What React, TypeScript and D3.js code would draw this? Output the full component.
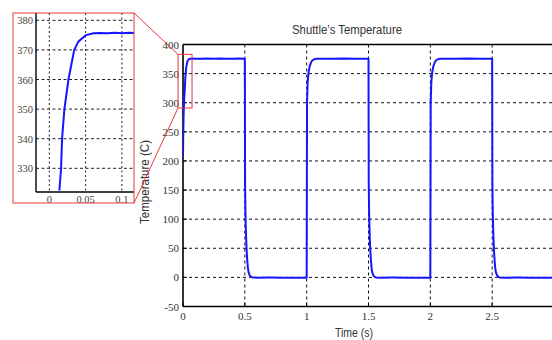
import React from "react";
import * as d3 from "d3";

// ---- data ----
const timeS: number[] = [
  0, 0.002, 0.005, 0.01, 0.014, 0.016, 0.018, 0.021, 0.026, 0.03, 0.034, 0.04, 0.05, 0.06, 0.08, 0.1, 0.15, 0.2, 0.25, 0.3, 0.35, 0.4, 0.45, 0.499,
  0.5, 0.502, 0.505, 0.51, 0.515, 0.52, 0.525, 0.53, 0.54, 0.55, 0.56, 0.6, 0.7, 0.8, 0.9, 0.999,
  1.0, 1.003, 1.008, 1.015, 1.025, 1.035, 1.045, 1.06, 1.08, 1.1, 1.2, 1.3, 1.4, 1.499,
  1.5, 1.502, 1.505, 1.51, 1.515, 1.52, 1.525, 1.53, 1.54, 1.55, 1.56, 1.6, 1.7, 1.8, 1.9, 1.999,
  2.0, 2.003, 2.008, 2.015, 2.025, 2.035, 2.045, 2.06, 2.08, 2.1, 2.2, 2.3, 2.4, 2.499,
  2.5, 2.502, 2.505, 2.51, 2.515, 2.52, 2.525, 2.53, 2.54, 2.55, 2.56, 2.6, 2.7, 2.8, 2.9, 3.0,
];
const tempC: number[] = [
  205, 245, 280, 308, 322, 330, 340, 350, 360, 365, 370, 372.8, 375, 375.6, 375.8, 375.7, 375.5, 375.9, 375.6, 375.8, 375.5, 375.7, 375.9, 375.7,
  375.7, 160, 110, 70, 45, 28, 16, 9, 3, 1, 0, -0.5, -0.4, -0.6, -0.5, -0.5,
  -0.5, 300, 335, 352, 363, 369, 372.5, 374.6, 375.5, 375.7, 375.6, 375.9, 375.5, 375.7,
  375.7, 160, 110, 70, 45, 28, 16, 9, 3, 1, 0, -0.5, -0.4, -0.6, -0.5, -0.5,
  -0.5, 300, 335, 352, 363, 369, 372.5, 374.6, 375.5, 375.7, 375.6, 375.9, 375.5, 375.7,
  375.7, 160, 110, 70, 45, 28, 16, 9, 3, 1, 0, -0.5, -0.4, -0.6, -0.5, -0.5,
];
// inset detail (first rise)
const insetTime: number[] = [0.0139, 0.0162, 0.0176, 0.0208, 0.0264, 0.0343, 0.04, 0.0506, 0.061, 0.07, 0.08, 0.09, 0.1, 0.11, 0.12];
const insetTemp: number[] = [322.5, 330, 340, 350, 360, 370, 372.8, 375, 375.6, 375.7, 375.6, 375.8, 375.6, 375.8, 375.7];

const mainXTicks = [0, 0.5, 1, 1.5, 2, 2.5];
const mainXLabels = ["0", "0.5", "1", "1.5", "2", "2.5"];
const mainYTicks = [-50, 0, 50, 100, 150, 200, 250, 300, 350, 400];
const insetXTicks = [0, 0.05, 0.1];
const insetXLabels = ["0", "0.05", "0.1"];
const insetYTicks = [330, 340, 350, 360, 370, 380];
const zoomBox = { t0: -0.04, t1: 0.073, y0: 291, y1: 383 };

const title = "Shuttle\u2019s Temperature";
const xLabel = "Time (s)";
const yLabel = "Temperature (C)";

export default function App() {
  const W = 552, H = 340;
  const x = d3.scaleLinear().domain([0, 3]).range([183, 554]);
  const y = d3.scaleLinear().domain([-50, 400]).range([306.5, 44.5]);
  const ix = d3.scaleLinear().domain([0, 0.05]).range([49.3, 85.6]);
  const iy = d3.scaleLinear().domain([330, 380]).range([168.3, 20.3]);
  const iL = 36, iB = 192, iR = 134, iT = 13;

  const line = d3.line<number>().x((_, i) => x(timeS[i])).y((d) => y(d));
  const iline = d3.line<number>().x((_, i) => ix(insetTime[i])).y((d) => iy(d));

  const serif = "'Liberation Serif', 'Times New Roman', serif";
  const sans = "'Liberation Sans', Arial, sans-serif";
  const blue = "#1515ff";
  const red = "#e8383d";

  const zx0 = x(zoomBox.t0), zx1 = x(zoomBox.t1), zy0 = y(zoomBox.y1), zy1 = y(zoomBox.y0);

  return (
    <svg width={W} height={H} style={{ position: "absolute", left: 0, top: 0, background: "#fff" }}>
      <defs>
        <clipPath id="mainClip">
          <rect x={183} y={44.5} width={371} height={262} />
        </clipPath>
        <clipPath id="insetClip">
          <rect x={iL} y={iT} width={iR - iL} height={iB - iT} />
        </clipPath>
      </defs>

      {/* main grid */}
      {mainXTicks.slice(1).map((t) => (
        <line key={"gx" + t} x1={x(t)} x2={x(t)} y1={y(400)} y2={y(-50)} stroke="#111" strokeWidth={1} strokeDasharray="3,3" />
      ))}
      {mainYTicks.slice(1, -1).map((v) => (
        <line key={"gy" + v} x1={x(0)} x2={W} y1={y(v)} y2={y(v)} stroke="#111" strokeWidth={1} strokeDasharray="3,3" />
      ))}
      {/* ticks */}
      {mainYTicks.map((v) => (
        <line key={"ty" + v} x1={x(0)} x2={x(0) + 4} y1={y(v)} y2={y(v)} stroke="#000" />
      ))}
      {mainXTicks.map((t) => (
        <line key={"tx" + t} x1={x(t)} x2={x(t)} y1={y(-50)} y2={y(-50) - 4} stroke="#000" />
      ))}
      {/* frame */}
      <line x1={x(0)} x2={W} y1={y(400)} y2={y(400)} stroke="#000" strokeWidth={1.6} />
      <line x1={x(0)} x2={W} y1={y(-50)} y2={y(-50)} stroke="#000" strokeWidth={1.6} />
      <line x1={x(0)} x2={x(0)} y1={y(400)} y2={y(-50)} stroke="#000" strokeWidth={1.6} />

      <path d={line(tempC) || ""} fill="none" stroke={blue} strokeWidth={2} clipPath="url(#mainClip)" strokeLinejoin="round" />

      {/* tick labels */}
      {mainYTicks.map((v) => (
        <text key={"ly" + v} x={179} y={y(v) + 4} textAnchor="end" fontFamily={serif} fontSize={11} fill="#333">{v}</text>
      ))}
      {mainXTicks.map((t, i) => (
        <text key={"lx" + t} x={x(t)} y={320} textAnchor="middle" fontFamily={serif} fontSize={11} fill="#333">{mainXLabels[i]}</text>
      ))}

      <text x={347} y={34} textAnchor="middle" fontFamily={sans} fontSize={12} fill="#333" textLength={110} lengthAdjust="spacingAndGlyphs">{title}</text>
      <text x={354} y={337} textAnchor="middle" fontFamily={sans} fontSize={12} fill="#333" textLength={38} lengthAdjust="spacingAndGlyphs">{xLabel}</text>
      <text transform={`translate(149,182) rotate(-90)`} textAnchor="middle" fontFamily={sans} fontSize={12} fill="#333" textLength={84} lengthAdjust="spacingAndGlyphs">{yLabel}</text>

      {/* inset */}
      {insetXTicks.map((t) => (
        <line key={"igx" + t} x1={ix(t)} x2={ix(t)} y1={iT} y2={iB} stroke="#222" strokeDasharray="2,2.5" />
      ))}
      {insetYTicks.map((v) => (
        <line key={"igy" + v} x1={iL} x2={iR} y1={iy(v)} y2={iy(v)} stroke="#222" strokeDasharray="3,2.5" />
      ))}
      <line x1={iL} x2={iL} y1={iT} y2={iB} stroke="#000" strokeWidth={1.4} />
      <line x1={iL} x2={iR} y1={iB} y2={iB} stroke="#000" strokeWidth={1.4} />
      <path d={iline(insetTemp) || ""} fill="none" stroke={blue} strokeWidth={2} clipPath="url(#insetClip)" strokeLinejoin="round" />
      {insetYTicks.map((v) => (
        <text key={"ily" + v} x={33} y={iy(v) + 4} textAnchor="end" fontFamily={serif} fontSize={10.5} fill="#444">{v}</text>
      ))}
      {insetXTicks.map((t, i) => (
        <text key={"ilx" + t} x={ix(t)} y={203} textAnchor="middle" fontFamily={serif} fontSize={10.5} fill="#444">{insetXLabels[i]}</text>
      ))}

      {/* zoom indicators */}
      <rect x={13} y={13} width={121} height={190} fill="none" stroke={red} strokeWidth={1} />
      <rect x={zx0} y={zy0} width={zx1 - zx0} height={zy1 - zy0} fill="none" stroke={red} strokeWidth={1} />
      <line x1={134} y1={13} x2={zx0} y2={zy0} stroke={red} strokeWidth={1} />
      <line x1={134} y1={203} x2={zx0} y2={zy1} stroke={red} strokeWidth={1} />
    </svg>
  );
}
